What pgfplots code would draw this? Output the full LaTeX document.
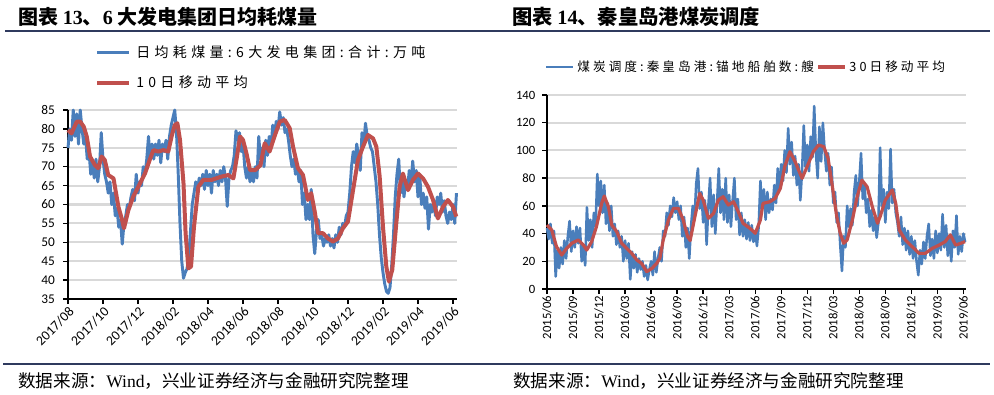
\documentclass[border=0pt]{standalone}
\usepackage{fontspec}
\usepackage{pgfplots}
\pgfplotsset{compat=1.18}
\usepackage{pgfplotstable}
\setmainfont{Carlito}
\newfontfamily\cjk{Noto Sans CJK SC}
\newfontfamily\cjkleg[LetterSpace=31]{Noto Sans CJK SC}
\newfontfamily\cjklegr[LetterSpace=24]{Noto Sans CJK SC}
\newfontfamily\tnr{Liberation Serif}
\definecolor{sblue}{HTML}{4A7EBB}
\definecolor{sred}{HTML}{C0504D}
\definecolor{navy}{HTML}{2F3A5E}
\definecolor{gridc}{HTML}{D9D9D9}

\pgfplotstableread{
m v
0 79.7
0.2 78.8
0.5 81.9
0.7 81.9
0.9 80.6
1.07 78
1.26 72.7
1.54 70.4
1.73 69.6
1.92 72.7
2.1 71.8
2.3 67.8
2.6 66.9
2.88 59.4
3.07 56.3
3.2 53.7
3.45 58.5
3.73 62.1
4.02 64.7
4.4 68.2
4.7 72.2
4.88 74.4
5.16 74
5.45 74.4
5.73 74
5.92 78
6.1 81
6.25 81.5
6.4 77.1
6.6 65.6
6.72 52.4
6.88 43.1
7.03 43.6
7.2 54.1
7.45 64.7
7.73 66.5
8.2 66.5
8.78 67.4
9.16 67.8
9.45 66.9
9.64 72.2
9.83 78
10.0 77.1
10.2 73.5
10.4 69.1
10.7 69.1
11.0 70.4
11.24 76.2
11.52 74
11.8 78
12.1 81.9
12.38 82.4
12.67 80.2
12.86 75.3
13.14 69.6
13.43 67.8
13.71 61.2
13.9 63
14.1 58.1
14.29 52.4
14.57 52.4
14.86 51
15.14 50.2
15.43 51
15.71 53.7
16.0 55.5
16.29 63.8
16.57 71.8
16.86 75.3
17.14 78.4
17.43 77.5
17.62 75.3
17.81 67.4
18.0 54.1
18.19 43.6
18.34 39.6
18.53 42.7
18.76 55
18.95 64.7
19.14 68.2
19.43 63.8
19.71 66.5
20.0 68.2
20.29 66.9
20.57 64.7
20.86 61.2
21.14 56.3
21.43 59.4
21.71 61.2
22.0 59.4
22.19 56.8
}\leftred

\pgfplotstableread{
y
75
80
77
85
78
84
76
85
80
76
78
72
74
68
71
67
72
66
70
79
72
68
66
63
66
60
63
57
59
54
56
49.5
55
57
60
59
62
64
61
68
63
66
65
70
68
72
78
72
76
72
76
73
77
71
76
74
77
72
78
81
83
85
79
68
55
45
40.5
42
43
46
53
60
63
66
64
67
65
68
64
69
65
68
63
69
66
68
65
69
66
70
67
59.5
67
69
70
73
79.5
77
79
74
76
70
67
70
66
69
66
70
67
78
72
75
70
77
73
78
75
81
78
82
80
84.5
81
83
79
80
77
73
70
72
68
70
66
69
60
63
56
60
56
64
52
47
53
56
51
52
49
51
50
52
49
51
48.5
52
50
54
52
55
54
57
58
63
70
74
71
76
73
69
79
76
81.5
78
77
75
74
70
66
60
52
46
42
39
37
36.5
38
44
52
62
68
72
63
67
62
66
64
69
65
71.5
66
69
62
68
60
63
59
62
53.5
60
58
61
57
62
60
63
58
61
57
55
58
56
60
55
63
}\leftblue

\pgfplotstableread{
m v
0 46.2
0.54 42.6
1.1 30.5
1.7 24.5
2.27 29.3
2.85 33
3.6 35.4
4.2 31.7
4.58 28.1
5.15 34.2
5.7 45
6.3 61.8
6.6 67.1
7.08 59.4
7.46 46.2
8.04 41.4
8.6 33
9.2 29.3
9.77 25.7
10.35 20.9
10.9 18.5
11.5 12.5
12.1 14.9
12.65 18.5
13.0 22.1
13.4 35.4
14.0 49.8
14.58 58.2
15.15 58.2
15.7 49.8
16.2 38
16.5 35
17.05 52.2
17.6 69
18.0 64.2
18.6 51
19.2 54.6
19.75 64.2
20.3 66.6
20.9 60.6
21.5 63
22.05 55.8
22.6 47.4
23.4 43.8
24.0 40.2
24.6 49.8
24.9 61.8
25.7 63
26.3 65.4
26.9 72.6
27.4 88.3
28.0 99.1
28.6 91.9
29.4 79.8
29.9 87.1
30.7 99.1
31.3 103.9
31.9 102.7
32.4 94.3
32.9 73.8
33.4 52.2
33.8 40.2
34.2 33
34.6 35.4
35.2 49.8
35.75 66.6
36.3 78.6
36.9 73.8
37.5 59.4
38.1 47.4
38.4 52.2
39.0 64.2
39.8 71.4
40.2 61.8
40.6 42.6
41.3 35.4
42.1 30.5
42.9 25.7
43.6 25.7
44.4 29.3
45.2 31.7
45.9 34.2
46.5 39
47.1 31.7
47.7 33
48.2 34.2
}\rightred

\pgfplotstableread{
y
44
36
47
33
42
9
28
15
30
18
35
22
38
49
27
42
30
45
33
44
20
31
17
59
35
50
30
55
45
83
60
78
55
75
47
62
42
60
38
47
32
42
30
38
20
35
22
33
7
27
15
25
12
22
14
20
9
17
6.5
14
20
10
27
12
22
30
20
42
38
55
46
60
52
66
55
63
50
60
38
52
30
44
22
45
60
50
76
87
58
70
48
64
32
60
80
45
68
40
62
87
55
72
50
80
48
68
45
64
80
50
65
39
55
38
50
36
48
35
46
34
42
31
45
78
58
72
50
70
55
65
57
75
62
87
72
90
78
100
84
116
90
106
82
96
75
90
64
85
118
88
104
85
110
95
132
98
80
117
92
120
100
85
98
75
88
62
70
48
55
32
13
38
30
60
45
58
46
70
82
60
78
98
65
75
55
65
45
57
42
52
37
48
102
60
72
48
70
58
101
62
72
55
48
38
52
32
44
28
42
25
38
22
35
20
10
28
18
34
22
38
47
24
36
22
42
26
40
28
54
30
46
24
38
20
42
30
53
25
38
27
40
34
}\rightblue

\pgfplotsset{
  base/.style={
    scale only axis,
    axis lines*=left,
    axis line style={black, line width=1.2pt},
    tick style={black, line width=1pt},
    tick align=outside,
    major tick length=3.75pt,
    ymajorgrids,
    grid style={color=gridc, line width=1.6pt},
    clip=false,
    /pgf/number format/assume math mode=true,
    legend cell align=left,
  }
}

\begin{document}
\begin{tikzpicture}
\path[use as bounding box] (0pt,0pt) rectangle (745.5pt,-296.25pt);

% titles and rules
\node[anchor=west, inner sep=0pt, font=\cjk\bfseries\fontsize{15}{18}\selectfont] at (13.5pt,-12.75pt) {图表 {\tnr\bfseries 13}、{\tnr\bfseries 6} 大发电集团日均耗煤量};
\node[anchor=west, inner sep=0pt, font=\cjk\bfseries\fontsize{15.2}{18}\selectfont] at (384pt,-12.75pt) {图表 {\tnr\bfseries 14}、秦皇岛港煤炭调度};
\draw[navy, line width=2pt] (3.75pt,-23.25pt) -- (742.5pt,-23.25pt);
\draw[navy, line width=1.2pt] (2.25pt,-273pt) -- (742.5pt,-273pt);
\node[anchor=west, inner sep=0pt, font=\cjk\fontsize{13.2}{15}\selectfont] at (13.5pt,-285.75pt) {数据来源：{\tnr Wind}，兴业证券经济与金融研究院整理};
\node[anchor=west, inner sep=0pt, font=\cjk\fontsize{13.2}{15}\selectfont] at (384.75pt,-285.75pt) {数据来源：{\tnr Wind}，兴业证券经济与金融研究院整理};

% left chart
\begin{axis}[base,
  at={(51pt,-224.25pt)}, anchor=south west,
  width=291.75pt, height=141.75pt,
  xmin=0, xmax=22.23, ymin=35, ymax=85,
  ytick={35,40,...,85}, xtick={0,2,...,22},
  xticklabels={2017/08,2017/10,2017/12,2018/02,2018/04,2018/06,2018/08,2018/10,2018/12,2019/02,2019/04,2019/06},
  x tick label style={rotate=45, anchor=north east, inner sep=1pt, font=\fontsize{10.3}{12}\selectfont},
  y tick label style={font=\fontsize{10}{12}\selectfont, xshift=-2.5pt},
  legend style={at={(0.0694,1.34)}, anchor=north west, draw=none, fill=none, inner sep=0pt,
    font=\cjkleg\fontsize{10.5}{12}\selectfont, row sep=12pt, nodes={inner sep=0pt},
    /tikz/every odd column/.append style={column sep=3.75pt}},
  legend image code/.code={\draw[#1] (0pt,0pt) -- (24pt,0pt);},
]
\addplot[sblue, line width=2.2pt, line join=round] table[x expr=\coordindex*0.1, y=y] {\leftblue};
\addlegendentry{日均耗煤量:6大发电集团:合计:万吨}
\addplot[sred, line width=3pt, line join=round] table[x=m, y=v] {\leftred};
\addlegendentry{10日移动平均}
\end{axis}

% right chart
\begin{axis}[base,
  at={(410.25pt,-216.75pt)}, anchor=south west,
  width=314.25pt, height=145.5pt,
  xmin=0, xmax=48.3, ymin=0, ymax=140,
  ytick={0,20,...,140}, xtick={0,3,...,48},
  xticklabels={2015/06,2015/09,2015/12,2016/03,2016/06,2016/09,2016/12,2017/03,2017/06,2017/09,2017/12,2018/03,2018/06,2018/09,2018/12,2019/03,2019/06},
  x tick label style={rotate=90, anchor=east, inner sep=1pt, font=\fontsize{9.5}{11}\selectfont},
  y tick label style={font=\fontsize{9.5}{11}\selectfont, xshift=-1.5pt},
  legend columns=2,
  legend style={at={(-0.005,1.144)}, anchor=west, draw=none, fill=none, inner sep=0pt,
    font=\cjklegr\fontsize{9.5}{11}\selectfont, nodes={inner sep=0pt},
    /tikz/every odd column/.append style={column sep=2.25pt},
    /tikz/every even column/.append style={column sep=2pt}},
  legend image code/.code={\draw[#1] (0pt,0pt) -- (20pt,0pt);},
]
\addplot[sblue, line width=1.9pt, line join=round] table[x expr=\coordindex*0.2, y=y] {\rightblue};
\addlegendentry{煤炭调度:秦皇岛港:锚地船舶数:艘}
\addplot[sred, line width=2.4pt, line join=round] table[x=m, y=v] {\rightred};
\addlegendentry{30日移动平均}
\end{axis}
\end{tikzpicture}
\end{document}
